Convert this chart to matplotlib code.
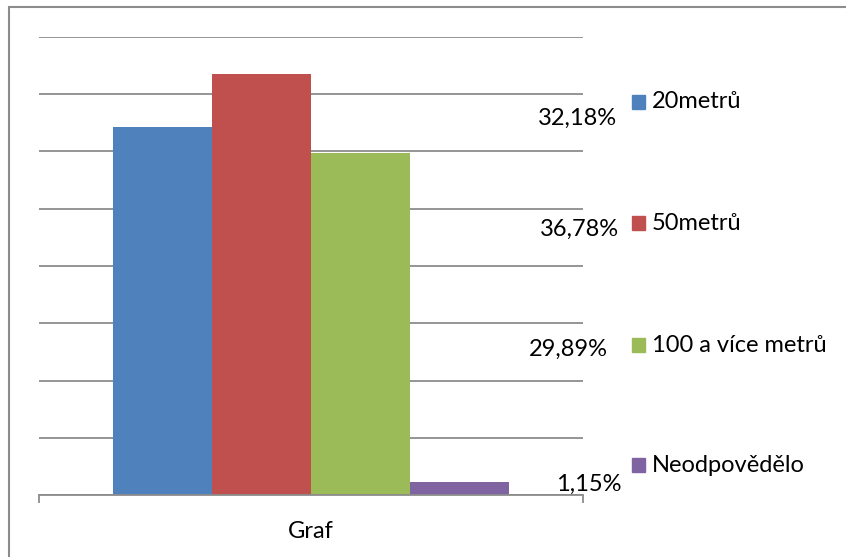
import matplotlib.pyplot as plt
from matplotlib.patches import Rectangle

# Data
category = "Graf"
series = ["20metrů", "50metrů", "100 a více metrů", "Neodpovědělo"]
values = [32.18, 36.78, 29.89, 1.15]
value_labels = ["32,18%", "36,78%", "29,89%", "1,15%"]
colors = ["#4F81BD", "#C0504D", "#9BBB59", "#8064A2"]

W, H = 846, 557
FS = 17
plt.rcParams["font.family"] = ["Lato", "DejaVu Sans"]

fig = plt.figure(figsize=(W / 100, H / 100), dpi=100)

# outer chart border (only top and left visible in the crop)
fig.patches.append(Rectangle((9 / W, -0.1), 1.2, (H - 7) / H + 0.1, transform=fig.transFigure,
                             fill=False, ec="#8c8c8c", lw=1.5))

# plot area in pixels: x 39..583, y 37..495
ax = fig.add_axes([39 / W, 1 - 495 / H, (583 - 39) / W, (495 - 37) / H])

bar_w = 99 / 544
n = len(values)
for i, (v, c, s) in enumerate(zip(values, colors, series)):
    x = (i - (n - 1) / 2) * bar_w
    ax.bar(x, v, width=bar_w, color=c, label=s, zorder=2)

ax.set_xlim(-0.5, 0.5)
ax.set_ylim(0, 40)
ax.set_yticks(range(0, 41, 5))
ax.yaxis.grid(True, color="#8c8c8c", lw=1.3, zorder=0)
ax.tick_params(axis="y", length=0, labelleft=False)
ax.set_xticks([0])
ax.set_xticklabels([category], fontsize=FS)
ax.set_xticks([-0.5, 0.5], minor=True)
ax.tick_params(axis="x", which="major", length=0, pad=19)
ax.tick_params(axis="x", which="minor", length=6, color="#8c8c8c", width=1.3, direction="out")
for side in ["top", "right", "left"]:
    ax.spines[side].set_visible(False)
ax.spines["bottom"].set_color("#8c8c8c")
ax.spines["bottom"].set_linewidth(1.3)

# data labels sitting to the right of the plot area
label_pos = [(617, 118), (619, 229), (608, 349), (622, 484)]
for txt, (px, py) in zip(value_labels, label_pos):
    fig.text(px / W, 1 - py / H, txt, ha="right", va="center", fontsize=FS)

# legend
leg_y = [102, 223, 345, 465]
for s, c, py in zip(series, colors, leg_y):
    fig.patches.append(Rectangle((632 / W, 1 - (py + 7) / H), 13 / W, 14 / H,
                                 transform=fig.transFigure, color=c))
    fig.text(652 / W, 1 - py / H, s, ha="left", va="center", fontsize=FS)

fig.savefig("out.png", dpi=100)
